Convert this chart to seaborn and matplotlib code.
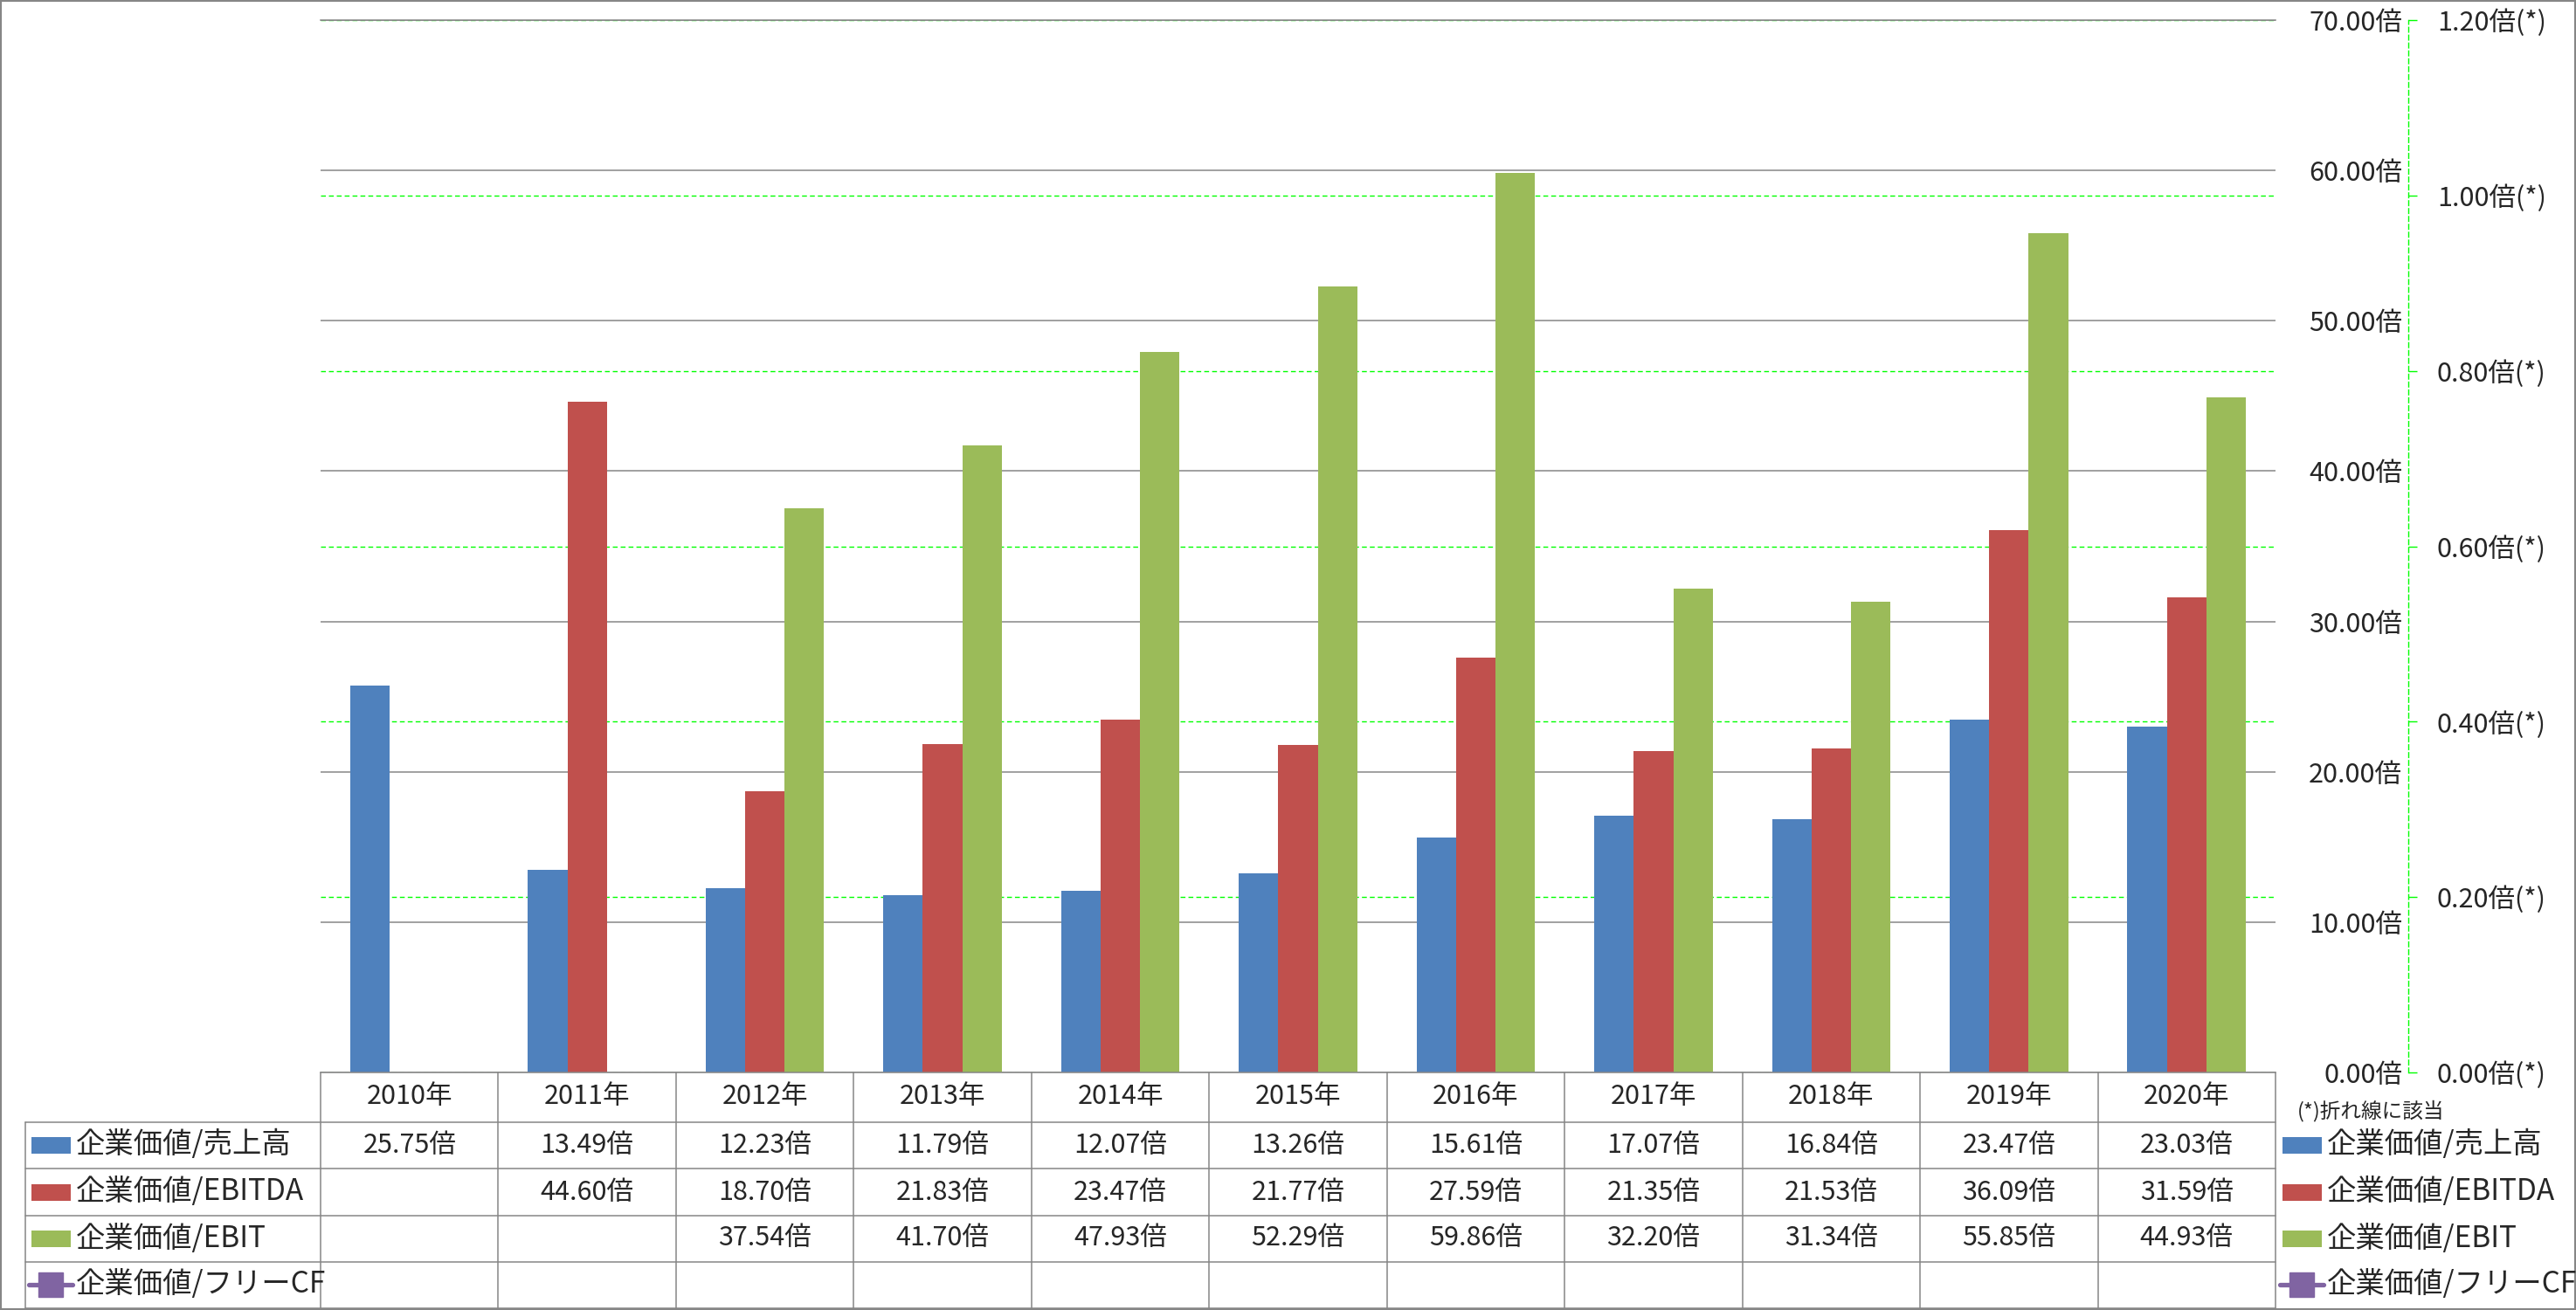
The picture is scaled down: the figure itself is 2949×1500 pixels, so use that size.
import numpy as np
import pandas as pd
import matplotlib
matplotlib.use("Agg")
import matplotlib.pyplot as plt
import seaborn as sns
from matplotlib.transforms import blended_transform_factory
from matplotlib.lines import Line2D
from matplotlib.patches import Rectangle

# ---------------- data ----------------
years = ['2010年', '2011年', '2012年', '2013年', '2014年', '2015年',
         '2016年', '2017年', '2018年', '2019年', '2020年']
ev_sales = [25.75, 13.49, 12.23, 11.79, 12.07, 13.26, 15.61, 17.07, 16.84, 23.47, 23.03]
ev_ebitda = [None, 44.60, 18.70, 21.83, 23.47, 21.77, 27.59, 21.35, 21.53, 36.09, 31.59]
ev_ebit = [None, None, 37.54, 41.70, 47.93, 52.29, 59.86, 32.20, 31.34, 55.85, 44.93]
ev_fcf = [None, None, None, None, None, None, None, None, None, None, None]
series_names = ['企業価値/売上高', '企業価値/EBITDA', '企業価値/EBIT', '企業価値/フリーCF']
left_ticks = [0, 10, 20, 30, 40, 50, 60, 70]
right_ticks = [0.0, 0.2, 0.4, 0.6, 0.8, 1.0, 1.2]
note_text = '(*)折れ線に該当'

colors = ['#4F81BD', '#C0504D', '#9BBB59', '#8064A2']
GRAY = '#868686'
LIME = '#00FF00'

sns.set_style('white')
plt.rcParams['font.family'] = ['Noto Sans CJK JP', 'DejaVu Sans']

W, H = 2949, 1500
fig = plt.figure(figsize=(W / 100, H / 100), dpi=100)


def fx(p):
    return p / W


def fy(p):
    return 1 - p / H


ax = fig.add_axes([fx(367), fy(1228), (2605 - 367) / W, (1228 - 23) / H])
ax2 = ax.twinx()
ax.set_zorder(ax2.get_zorder() + 1)
ax.patch.set_visible(False)

all_series = [ev_sales, ev_ebitda, ev_ebit, ev_fcf]
rows = []
for name, vals in zip(series_names[:3], all_series[:3]):
    for yr, v in zip(years, vals):
        rows.append({'年': yr, '指標': name, '値': np.nan if v is None else v})
df = pd.DataFrame(rows)

sns.barplot(data=df, x='年', y='値', hue='指標', order=years,
            hue_order=series_names[:3], palette=colors[:3], saturation=1,
            width=2 / 3, gap=0, errorbar=None, legend=False, linewidth=0,
            edgecolor='none', ax=ax)

ax.set_xlim(-0.5, len(years) - 0.5)
ax.set_ylim(0, 70)
ax.set_xlabel('')
ax.set_ylabel('')
ax.tick_params(axis='x', bottom=False, labelbottom=False)
ax.set_yticks(left_ticks)
ax.set_yticklabels([f'{v:.2f}倍' for v in left_ticks])
ax.yaxis.tick_right()
ax.tick_params(axis='y', length=0, pad=104.4, labelsize=22)
for lab in ax.get_yticklabels():
    lab.set_horizontalalignment('right')
ax.yaxis.grid(True, color=GRAY, lw=1.1)
ax.set_axisbelow(True)
for s in ['left', 'right']:
    ax.spines[s].set_visible(False)
for s in ['top', 'bottom']:
    ax.spines[s].set_visible(True)
    ax.spines[s].set_color(GRAY)
    ax.spines[s].set_linewidth(1.1)

# secondary axis (line series)
xs = np.arange(len(years))
ax2.plot(xs, [np.nan if v is None else v for v in ev_fcf], color=colors[3],
         marker='s', lw=3.6)
ax2.set_ylim(0, 1.2)
ax2.set_yticks(right_ticks)
ax2.set_yticklabels([f'{v:.2f}倍(*)' for v in right_ticks])
ax2.yaxis.grid(True, color=LIME, lw=1, linestyle=(0, (4, 2.5)))
ax2.tick_params(axis='y', direction='out', length=7.2, color=LIME, width=1,
                pad=16.5, labelsize=22)
for s in ['top', 'left', 'bottom']:
    ax2.spines[s].set_visible(False)
ax2.spines['right'].set_position(('outward', 109.4))
ax2.spines['right'].set_color(LIME)
ax2.spines['right'].set_linestyle((0, (4, 2.5)))
ax2.spines['right'].set_linewidth(1)

# ---------------- data table ----------------
trans = blended_transform_factory(ax.transData, fig.transFigure)
row_bounds = [1228, 1285, 1338, 1392, 1445, 1498]
row_centers = [1311, 1365, 1418, 1471]

for b in np.arange(-0.5, len(years), 1):
    fig.add_artist(Line2D([b, b], [fy(1228), fy(1498)], transform=trans,
                          color=GRAY, lw=1.1))
fig.add_artist(Line2D([fx(29), fx(29)], [fy(1285), fy(1498)],
                      transform=fig.transFigure, color=GRAY, lw=1.1))
for yb in row_bounds[1:]:
    fig.add_artist(Line2D([fx(29), fx(2605)], [fy(yb), fy(yb)],
                          transform=fig.transFigure, color=GRAY, lw=1.1))

for i, yr in enumerate(years):
    ax.text(i, fy(1255), yr, transform=trans, ha='center', va='center', fontsize=22)

for r, vals in enumerate(all_series):
    for i, v in enumerate(vals):
        if v is not None:
            ax.text(i, fy(row_centers[r]), f'{v:.2f}倍', transform=trans,
                    ha='center', va='center', fontsize=22)


# ---------------- legends ----------------
def legend_entry(x0, r, name, color, is_line=False):
    yc = row_centers[r]
    if is_line:
        fig.add_artist(Line2D([fx(x0 - 3), fx(x0 + 47)], [fy(yc), fy(yc)],
                              transform=fig.transFigure, color=color, lw=3.8,
                              solid_capstyle='round'))
        fig.add_artist(Line2D([fx(x0 + 22)], [fy(yc)], transform=fig.transFigure,
                              marker='s', markersize=20, color=color,
                              markerfacecolor=color, markeredgecolor=color))
    else:
        fig.add_artist(Rectangle((fx(x0), fy(yc + 9.5)), 45 / W, 19 / H,
                                 transform=fig.transFigure, color=color, lw=0))
    fig.text(fx(x0 + 51), fy(yc), name, ha='left', va='center', fontsize=24)


for r in range(4):
    legend_entry(36, r, series_names[r], colors[r], is_line=(r == 3))
    legend_entry(2613, r, series_names[r], colors[r], is_line=(r == 3))

fig.text(fx(2630), fy(1272), note_text, ha='left', va='center', fontsize=17)

# outer frame
fig.add_artist(Rectangle((0, 0), 1, 1, transform=fig.transFigure, fill=False,
                         edgecolor=GRAY, lw=3))

fig.savefig('out.png', dpi=100)
